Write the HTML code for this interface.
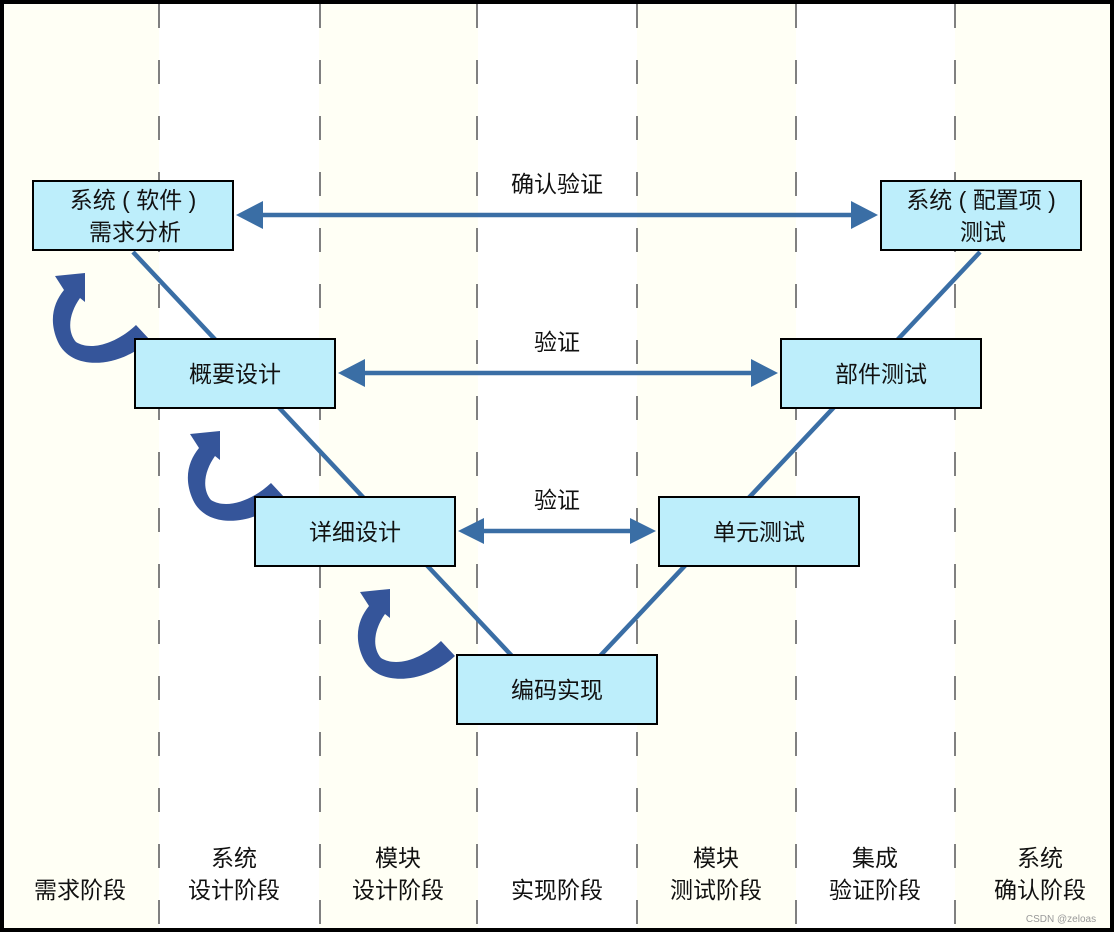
<!DOCTYPE html>
<html><head><meta charset="utf-8"><style>
html,body{margin:0;padding:0;background:#000}
svg{display:block}
text{font-family:"Liberation Sans","Noto Sans CJK SC",sans-serif;font-size:23px;fill:#111;text-anchor:middle}
</style></head><body>
<svg width="1114" height="932" viewBox="0 0 1114 932" xmlns="http://www.w3.org/2000/svg">
<rect x="0" y="0" width="1114" height="932" fill="#000"/>
<rect x="4" y="4" width="1106" height="924" fill="#fffff5"/>
<rect x="159" y="4" width="160" height="924" fill="#fff"/>
<rect x="478" y="4" width="159" height="924" fill="#fff"/>
<rect x="796" y="4" width="159" height="924" fill="#fff"/>
<g stroke="#808080" stroke-width="2" stroke-dasharray="24 32">
<line x1="159" y1="4" x2="159" y2="928"/><line x1="320" y1="4" x2="320" y2="928"/>
<line x1="477" y1="4" x2="477" y2="928"/><line x1="637" y1="4" x2="637" y2="928"/>
<line x1="796" y1="4" x2="796" y2="928"/><line x1="955" y1="4" x2="955" y2="928"/>
</g>
<g stroke="#3a6ea5" stroke-width="4.5">
<line x1="133" y1="252" x2="512" y2="656"/>
<line x1="600" y1="656" x2="980" y2="252"/>
<line x1="260" y1="215" x2="856" y2="215"/>
<line x1="362" y1="373" x2="756" y2="373"/>
<line x1="480" y1="531" x2="634" y2="531"/>
</g>
<g fill="#3a6ea5">
<polygon points="236,215 263,201 263,229"/><polygon points="878,215 851,201 851,229"/>
<polygon points="338,373 365,359 365,387"/><polygon points="778,373 751,359 751,387"/>
<polygon points="458,531 484,518 484,544"/><polygon points="656,531 630,518 630,544"/>
</g>
<g fill="#35559a">
<path id="ca" d="M150,340 C120,368 72,372 58,342 C48,320 54,302 64,290 L55,276 L85,273 L85,302 L80,298 C70,312 66,330 76,342 C92,352 118,342 136,325 Z"/>
<use href="#ca" transform="translate(135,158)"/>
<use href="#ca" transform="translate(305,316)"/>
</g>
<g fill="#bdeefb" stroke="#000" stroke-width="2">
<rect x="33" y="181" width="200" height="69"/>
<rect x="135" y="339" width="200" height="69"/>
<rect x="255" y="497" width="200" height="69"/>
<rect x="457" y="655" width="200" height="69"/>
<rect x="659" y="497" width="200" height="69"/>
<rect x="781" y="339" width="200" height="69"/>
<rect x="881" y="181" width="200" height="69"/>
</g>
<text x="133" y="208">系统 ( 软件 )</text><text x="135" y="240">需求分析</text>
<text x="235" y="382">概要设计</text>
<text x="355" y="540">详细设计</text>
<text x="557" y="698">编码实现</text>
<text x="759" y="540">单元测试</text>
<text x="881" y="382">部件测试</text>
<text x="981" y="208">系统 ( 配置项 )</text><text x="983" y="240">测试</text>
<text x="557" y="192">确认验证</text>
<text x="557" y="350">验证</text>
<text x="557" y="508">验证</text>
<text x="80" y="898">需求阶段</text>
<text x="234" y="866">系统</text><text x="234" y="898">设计阶段</text>
<text x="398" y="866">模块</text><text x="398" y="898">设计阶段</text>
<text x="557" y="898">实现阶段</text>
<text x="716" y="866">模块</text><text x="716" y="898">测试阶段</text>
<text x="875" y="866">集成</text><text x="875" y="898">验证阶段</text>
<text x="1040" y="866">系统</text><text x="1040" y="898">确认阶段</text>
<text x="1061" y="922" style="font-size:10px;fill:#999">CSDN @zeloas</text>
</svg>
</body></html>
